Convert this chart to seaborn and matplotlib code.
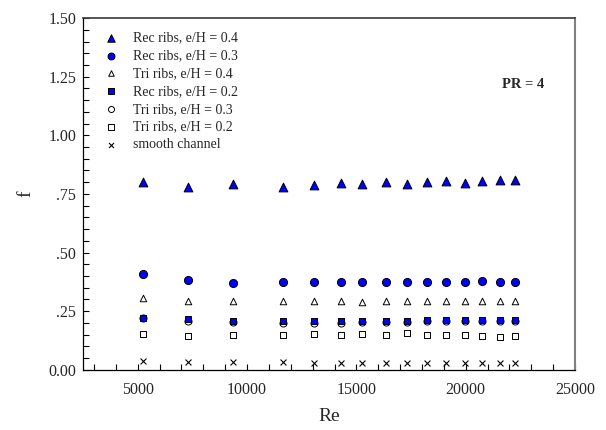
import numpy as np
import pandas as pd
import seaborn as sb
import matplotlib
matplotlib.use("Agg")
import matplotlib.pyplot as plt
from matplotlib.ticker import MultipleLocator, FuncFormatter

sb.set_theme(style="white")
plt.rcParams['font.family'] = ['Liberation Serif', 'DejaVu Serif']
plt.rcParams['mathtext.fontset'] = 'stix'

# Reynolds numbers (shared by all series)
re_vals = [5250, 7300, 9350, 11650, 13050, 14300, 15250, 16350,
           17300, 18250, 19100, 19950, 20750, 21550, 22250]

rec_04 = [0.802, 0.778, 0.792, 0.780, 0.788, 0.798, 0.792, 0.802,
          0.791, 0.802, 0.805, 0.798, 0.805, 0.808, 0.811]
rec_03 = [0.409, 0.383, 0.369, 0.374, 0.375, 0.375, 0.375, 0.374,
          0.376, 0.374, 0.375, 0.374, 0.378, 0.374, 0.375]
tri_04 = [0.308, 0.295, 0.295, 0.295, 0.295, 0.295, 0.291, 0.295,
          0.295, 0.295, 0.295, 0.295, 0.295, 0.295, 0.295]
rec_02 = [0.223, 0.216, 0.210, 0.206, 0.206, 0.209, 0.209, 0.210,
          0.207, 0.212, 0.212, 0.211, 0.211, 0.211, 0.211]
tri_03 = [0.220, 0.208, 0.205, 0.199, 0.201, 0.201, 0.204, 0.205,
          0.205, 0.206, 0.206, 0.207, 0.207, 0.207, 0.207]
tri_02 = [0.152, 0.146, 0.148, 0.149, 0.152, 0.149, 0.152, 0.150,
          0.156, 0.149, 0.150, 0.149, 0.145, 0.139, 0.145]
smooth = [0.038, 0.035, 0.032, 0.032, 0.029, 0.029, 0.030, 0.029,
          0.029, 0.028, 0.028, 0.027, 0.027, 0.027, 0.027]

# label, values, marker, face colour, size, zorder
series = [
    ("Rec ribs, e/H = 0.4", rec_04, "^", "#0000ff", 40, 5),
    ("Rec ribs, e/H = 0.3", rec_03, "o", "#0000ff", 34, 5),
    ("Tri ribs, e/H = 0.4", tri_04, "^", "white", 22, 5),
    ("Rec ribs, e/H = 0.2", rec_02, "s", "#0000ff", 24, 6),
    ("Tri ribs, e/H = 0.3", tri_03, "o", "white", 26, 4),
    ("Tri ribs, e/H = 0.2", tri_02, "s", "white", 20, 5),
]

fig = plt.figure(figsize=(6.06, 4.30), dpi=100)
ax = fig.add_axes([0.137, 0.140, 0.812, 0.818])

for label, vals, mk, fc, s, z in series:
    sb.scatterplot(x=re_vals, y=vals, marker=mk, color=fc, edgecolor="black",
                   linewidth=0.7, s=s, label=label, ax=ax, zorder=z)
sb.scatterplot(x=re_vals, y=smooth, marker="x", color="black", linewidth=0.8,
               s=18, label="smooth channel", ax=ax, zorder=5)

ax.set_xlim(2500, 25000)
ax.set_ylim(0, 1.5)
ax.xaxis.set_major_locator(MultipleLocator(5000))
ax.xaxis.set_minor_locator(MultipleLocator(1000))
ax.yaxis.set_major_locator(MultipleLocator(0.25))
ax.yaxis.set_minor_locator(MultipleLocator(0.05))


def yfmt(v, pos):
    s = "%.2f" % v
    if 0 < v < 1:
        s = s[1:]
    return s


ax.yaxis.set_major_formatter(FuncFormatter(yfmt))
ax.tick_params(axis="both", which="both", direction="in", length=4.5,
               width=0.8, color="black", labelsize=11.5,
               bottom=True, left=True, top=False, right=False)
ax.tick_params(axis="x", pad=9)
ax.tick_params(axis="y", pad=5)

for side in ["left", "bottom"]:
    ax.spines[side].set_color("black")
    ax.spines[side].set_linewidth(0.9)
ax.spines["top"].set_color("#404040")
ax.spines["right"].set_color("#808080")
ax.spines["right"].set_linewidth(1.5)

ax.set_xlabel("Re", fontsize=14, labelpad=7)
ax.set_ylabel("f", fontsize=14, labelpad=10, rotation=90)

ax.text(0.895, 0.81, "PR = 4", transform=ax.transAxes, fontsize=10.5,
        fontweight="bold", ha="center", va="center")

ax.legend(loc="upper left", frameon=False, fontsize=10, handletextpad=0.6,
          labelspacing=0.35, borderaxespad=0.3, bbox_to_anchor=(0.008, 0.99),
          markerscale=0.85)

plt.savefig("out.png", dpi=100)
plt.close()
